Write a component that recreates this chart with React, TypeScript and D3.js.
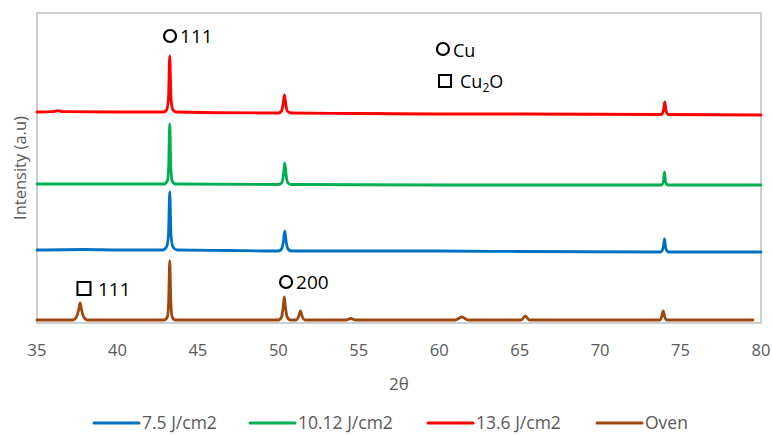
import React from "react";
import * as d3 from "d3";

// 2θ tick labels
const xTicks = [35, 40, 45, 50, 55, 60, 65, 70, 75, 80];

// Series names & colours
const seriesNames = ["7.5 J/cm2", "10.12 J/cm2", "13.6 J/cm2", "Oven"];
const seriesColors = ["#0070C0", "#00B050", "#FF0000", "#9E480E"];

// Intensity (a.u., stacked with offsets): [2θ, intensity]
const blue75: [number, number][] = [
  [35, 73], [38, 73.5], [40, 73], [42.8, 73], [43.05, 76], [43.17, 88], [43.25, 131], [43.33, 88], [43.45, 76], [43.7, 73],
  [47, 72.5], [50, 72], [50.2, 74], [50.32, 82], [50.4, 92], [50.48, 82], [50.6, 74], [50.8, 72],
  [55, 72], [60, 72], [65, 71.5], [73.75, 71], [73.92, 75], [74.0, 84], [74.08, 75], [74.25, 71], [80, 71],
];
const green1012: [number, number][] = [
  [35, 139], [40, 139], [42.9, 139], [43.1, 142], [43.18, 155], [43.25, 199], [43.32, 155], [43.4, 142], [43.6, 139],
  [50, 138.5], [50.2, 140], [50.3, 146], [50.4, 160], [50.5, 146], [50.6, 140], [50.8, 138.5],
  [60, 138], [70, 138], [73.8, 138], [73.93, 141], [74.0, 151], [74.07, 141], [74.2, 138], [80, 138],
];
const red136: [number, number][] = [
  [35, 211], [36.0, 211.3], [36.3, 212.3], [36.6, 211.3], [40, 211], [42.85, 211], [43.05, 213], [43.17, 224], [43.25, 267], [43.33, 224], [43.45, 213], [43.65, 211],
  [50.0, 210], [50.2, 212], [50.3, 219], [50.38, 228], [50.46, 219], [50.56, 212], [50.8, 210],
  [55, 209.5], [60, 209], [65, 209], [73.8, 208.5], [73.93, 212], [74.02, 221], [74.1, 212], [74.25, 208.5], [80, 208],
];
const oven: [number, number][] = [
  [35, 3], [37.2, 3], [37.45, 6], [37.6, 14], [37.68, 20], [37.76, 14], [37.9, 6], [38.15, 3],
  [42.9, 3], [43.1, 6], [43.18, 20], [43.25, 62], [43.32, 20], [43.4, 6], [43.6, 3],
  [50.0, 3], [50.2, 6], [50.3, 16], [50.37, 26], [50.44, 16], [50.55, 6], [50.75, 3],
  [51.1, 3], [51.25, 6], [51.37, 12], [51.5, 6], [51.65, 3],
  [54.2, 3], [54.5, 4.5], [54.8, 3], [61.0, 3], [61.4, 6], [61.8, 3], [65.1, 3], [65.35, 7], [65.6, 3],
  [73.7, 3], [73.82, 6], [73.92, 12], [74.02, 6], [74.15, 3], [79.5, 3],
];
const seriesData = [blue75, green1012, red136, oven];
const drawOrder = [3, 0, 1, 2];

// Peak annotations: [2θ, intensity, marker, label]
const annotations: { x: number; y: number; marker: string; label: string }[] = [
  { x: 43.27, y: 287, marker: "circle", label: "111" },
  { x: 37.92, y: 34.5, marker: "square", label: "111" },
  { x: 50.48, y: 41, marker: "circle", label: "200" },
];

const W = 772, H = 435;
const plot = { left: 37, right: 761, top: 13, bottom: 323 };

export default function App() {
  const x = d3.scaleLinear().domain([35, 80]).range([plot.left, plot.right]);
  const y = d3.scaleLinear().domain([0, 310]).range([plot.bottom, plot.top]);
  const lineGen = d3.line<[number, number]>().x((d) => x(d[0])).y((d) => y(d[1])).curve(d3.curveMonotoneX);
  const font = "'Open Sans', 'Liberation Sans', sans-serif";
  const gray = "#595959";

  const legendX = [94, 250, 428, 597];
  const legendY = 423;

  return (
    <svg width={W} height={H} style={{ position: "absolute", left: 0, top: 0, background: "#fff" }} fontFamily={font}>
      <rect x={0} y={0} width={W} height={H} fill="#fff" />
      <rect x={plot.left} y={plot.top} width={plot.right - plot.left} height={plot.bottom - plot.top} fill="none" stroke="#BFBFBF" strokeWidth={1.5} />
      {drawOrder.map((i) => (
        <path key={i} d={lineGen(seriesData[i]) || ""} fill="none" stroke={seriesColors[i]} strokeWidth={2.8} strokeLinejoin="round" strokeLinecap="round" />
      ))}
      {xTicks.map((t) => (
        <text key={t} x={x(t)} y={356} textAnchor="middle" fontSize={16.5} fill={gray}>{t}</text>
      ))}
      <text x={(plot.left + plot.right) / 2} y={390} textAnchor="middle" fontSize={17} fill={gray}>2θ</text>
      <text transform={`translate(26,${(plot.top + plot.bottom) / 2}) rotate(-90)`} textAnchor="middle" fontSize={16.5} fill={gray}>Intensity (a.u)</text>

      {annotations.map((a, k) => {
        const cx = x(a.x), cy = y(a.y);
        return (
          <g key={k}>
            {a.marker === "circle" ? (
              <circle cx={cx} cy={cy} r={6} fill="none" stroke="#000" strokeWidth={2.2} />
            ) : (
              <rect x={cx - 6.5} y={cy - 6.5} width={13} height={13} fill="none" stroke="#000" strokeWidth={2} />
            )}
            <text x={cx + (a.marker === "circle" ? 10 : 14)} y={cy + 7} fontSize={19} fill="#000">{a.label}</text>
          </g>
        );
      })}

      {/* phase key */}
      <circle cx={x(60.23)} cy={y(274)} r={6} fill="none" stroke="#000" strokeWidth={2.2} />
      <text x={x(60.23) + 10} y={y(274) + 8} fontSize={18} fill="#000">Cu</text>
      <rect x={x(60.36) - 6} y={y(242) - 6} width={12} height={12} fill="none" stroke="#000" strokeWidth={2} />
      <text x={x(60.36) + 15} y={y(242) + 7} fontSize={18} fill="#000">Cu<tspan fontSize={12} dy={4}>2</tspan><tspan dy={-4}>O</tspan></text>

      {seriesNames.map((n, i) => {
        const lx = legendX[i];
        return (
          <g key={n}>
            <line x1={lx} x2={lx + 45} y1={legendY} y2={legendY} stroke={seriesColors[i]} strokeWidth={3} strokeLinecap="round" />
            <text x={lx + 48} y={legendY + 6} fontSize={17.5} fill={gray}>{n}</text>
          </g>
        );
      })}
    </svg>
  );
}
